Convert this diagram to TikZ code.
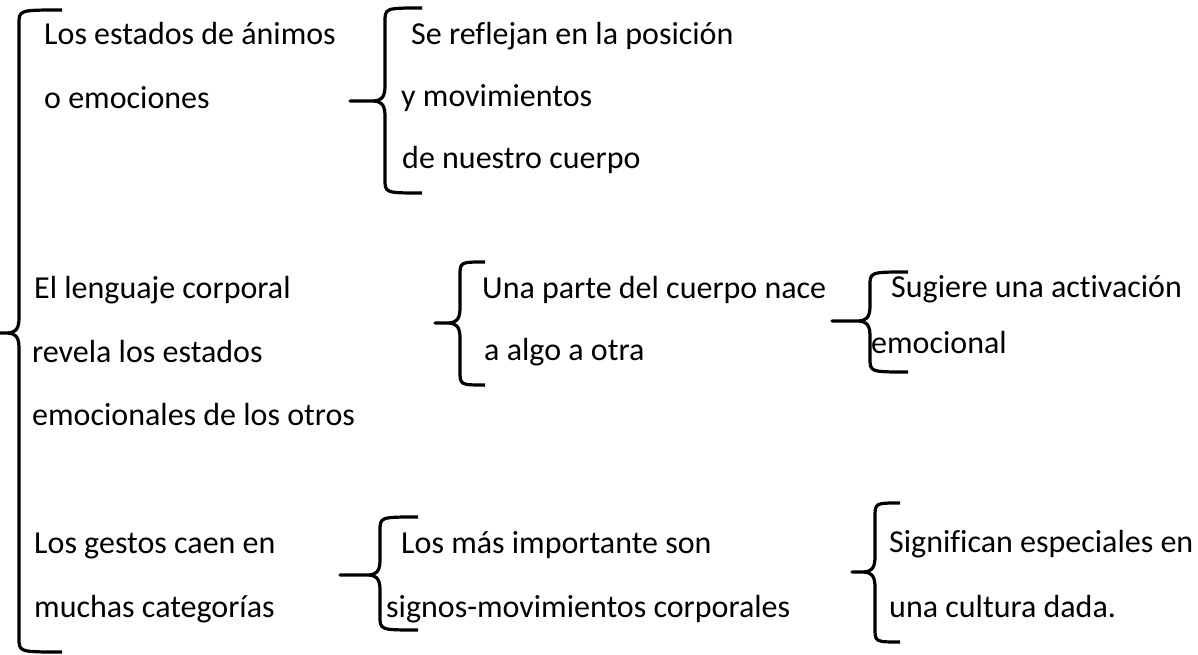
\documentclass[tikz,border=0pt]{standalone}
\usepackage{fontspec}
\setmainfont{Carlito}[Ligatures=NoCommon]
\usetikzlibrary{positioning}

\begin{document}
\begin{tikzpicture}[x=1pt,y=-1pt,
  txt/.style={anchor=base west,inner sep=0pt,font=\fontsize{32}{38}\selectfont},
  llave/.style={line width=3.2pt,line cap=butt,line join=round}]

\useasboundingbox (0,0) rectangle (1198,655);

\node[txt] (a1) at (44,45)   {Los estados de ánimos};
\node[txt] (a2) at (44,109)  {o emociones};
\node[txt] (b1) at (411,45)  {Se reflejan en la posición};
\node[txt] (b2) at (401,107) {y movimientos};
\node[txt] (b3) at (402,168) {de nuestro cuerpo};

\node[txt] (c1) at (34,298)  {El lenguaje corporal};
\node[txt] (c2) at (32,362)  {revela los estados};
\node[txt] (c3) at (32,425)  {emocionales de los otros};
\node[txt] (d1) at (482,298) {Una parte del cuerpo nace};
\node[txt] (d2) at (484,360) {a algo a otra};
\node[txt] (e1) at (891,297) {Sugiere una activación};
\node[txt] (e2) at (871,353) {emocional};

\node[txt] (f1) at (34,553)  {Los gestos caen en};
\node[txt] (f2) at (34,617)  {muchas categorías};
\node[txt] (g1) at (401,553) {Los más importante son};
\node[txt] (g2) at (386,617) {signos-movimientos corporales};
\node[txt] (h1) at (889,552) {Significan especiales en};
\node[txt] (h2) at (889,617) {una cultura dada.};

\foreach \tx/\vx/\hx/\ty/\my/\by in {% punta/vertical/gancho/arriba/medio/abajo
	 0/19/62/10/333/652,
	 350/385/422/8/101/193,
	 435/460/485/262/323/385,
	 832/870/908/272/321/372,
	 340/380/418/517/575/630,
	 852/875/900/503/572/642}
	\draw[llave] (\hx,\ty) .. controls (\vx,\ty) .. (\vx,\ty+14)
	  -- (\vx,\my-14) .. controls (\vx,\my-2) and (\vx-6,\my) .. (\vx-12,\my)
	  -- (\tx,\my) -- (\vx-12,\my) .. controls (\vx-6,\my) and (\vx,\my+2) .. (\vx,\my+14)
	  -- (\vx,\by-14) .. controls (\vx,\by) .. (\hx,\by);

\end{tikzpicture}
\end{document}
